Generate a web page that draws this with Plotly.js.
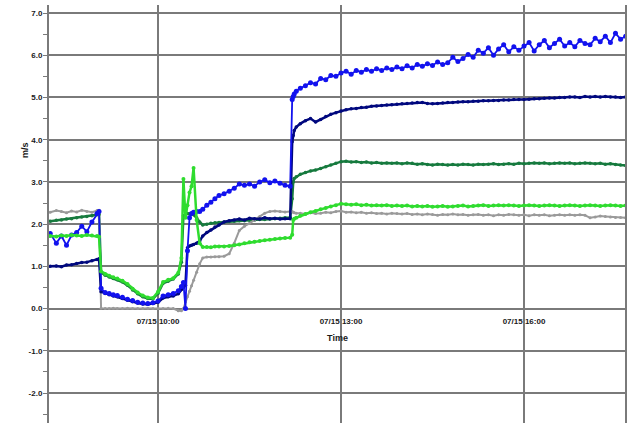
<!DOCTYPE html>
<html>
<head>
<meta charset="utf-8">
<script src="https://cdn.plot.ly/plotly-3.0.1.min.js"></script>
<style>html,body{margin:0;padding:0;background:#fff}#chart{width:629px;height:423px}</style>
</head>
<body>
<div id="chart"></div>
<script>
// ---- data ----
const day = '2024-07-15';
const clock = [
 '08:14','08:20','08:25','08:30','08:35','08:40','08:45','08:50','08:55','09:00','09:02',
 '09:04','09:08','09:12','09:16','09:20','09:25','09:30','09:35','09:40','09:45','09:50','09:55','10:00','10:05','10:10','10:15','10:20',
 '10:23','10:25','10:27','10:29','10:31','10:33','10:35','10:38','10:41','10:44','10:48','10:52','10:56',
 '11:00','11:05','11:10','11:15','11:20','11:25','11:30','11:35','11:40','11:45','11:50','11:55','12:00','12:05','12:10',
 '12:12','12:13','12:14','12:16',
 '12:20','12:25','12:30','12:35','12:40','12:45','12:50','12:55','13:00','13:05','13:10','13:15','13:20','13:25','13:30','13:35',
 '13:40','13:45','13:50','13:55','14:00','14:05','14:10','14:15','14:20','14:25','14:30','14:35','14:40','14:45','14:50','14:55',
 '15:00','15:05','15:10','15:15','15:20','15:25','15:30','15:35','15:40','15:45','15:50','15:55','16:00','16:05','16:10','16:15',
 '16:20','16:25','16:30','16:35','16:40','16:45','16:50','16:55','17:00','17:05','17:10','17:15','17:20','17:25','17:30','17:35','17:40'
];
const seriesBlue = [
 1.78,1.55,1.72,1.50,1.74,1.80,1.95,1.82,2.05,2.25,2.30,
 0.48,0.38,0.36,0.33,0.31,0.27,0.22,0.19,0.15,0.13,0.12,0.14,0.18,0.30,0.33,0.36,0.42,
 0.52,0.62,0.00,1.37,2.15,2.25,2.28,2.30,2.30,2.35,2.45,2.52,2.60,
 2.68,2.72,2.78,2.85,2.95,2.92,2.95,2.90,3.00,3.05,2.98,3.02,2.97,2.92,2.90,
 4.95,5.02,5.08,5.15,
 5.22,5.28,5.35,5.32,5.45,5.42,5.52,5.50,5.58,5.62,5.55,5.64,5.60,5.66,5.62,5.68,
 5.64,5.70,5.66,5.72,5.68,5.75,5.70,5.78,5.74,5.80,5.76,5.84,5.78,5.82,5.95,5.85,
 5.92,6.02,5.95,6.12,6.05,6.18,6.00,6.15,6.25,6.08,6.20,6.12,6.22,6.30,6.10,6.25,
 6.35,6.18,6.28,6.38,6.22,6.30,6.20,6.35,6.28,6.25,6.40,6.32,6.45,6.30,6.52,6.38,6.45
];
const seriesNavy = [
 1.00,1.01,0.99,1.03,1.04,1.07,1.09,1.10,1.13,1.16,1.18,
 0.40,0.36,0.33,0.30,0.28,0.24,0.20,0.16,0.13,0.11,0.10,0.12,0.15,0.25,0.28,0.30,0.35,
 0.45,0.50,0.55,1.44,1.48,1.50,1.52,1.55,1.60,1.72,1.80,1.86,1.93,
 1.98,2.05,2.08,2.10,2.12,2.10,2.14,2.13,2.12,2.15,2.13,2.14,2.12,2.13,2.13,
 3.95,4.10,4.22,4.30,
 4.38,4.45,4.50,4.42,4.48,4.55,4.60,4.64,4.68,4.71,4.73,4.74,4.76,4.77,4.79,4.80,
 4.81,4.82,4.83,4.84,4.85,4.86,4.87,4.88,4.88,4.86,4.85,4.86,4.87,4.88,4.88,4.89,
 4.90,4.90,4.91,4.91,4.92,4.92,4.93,4.93,4.94,4.94,4.95,4.95,4.95,4.96,4.97,4.97,
 4.98,4.99,4.99,5.00,5.00,5.01,5.01,5.00,5.02,5.01,5.02,5.01,5.02,5.01,5.01,5.00,5.01
];
const seriesDarkGreen = [
 2.07,2.09,2.10,2.12,2.13,2.15,2.17,2.18,2.20,2.22,2.23,
 0.85,0.79,0.75,0.71,0.68,0.63,0.55,0.44,0.35,0.28,0.24,0.23,0.36,0.60,0.65,0.70,0.82,
 1.10,2.20,2.22,2.25,2.24,2.25,2.22,2.15,2.05,1.98,2.00,2.02,2.03,
 2.04,2.05,2.06,2.07,2.08,2.08,2.09,2.10,2.11,2.11,2.12,2.13,2.14,2.15,2.16,
 2.60,3.00,3.08,3.12,
 3.18,3.22,3.26,3.28,3.32,3.36,3.40,3.44,3.48,3.49,3.47,3.48,3.46,3.47,3.45,3.46,
 3.44,3.45,3.44,3.45,3.43,3.45,3.44,3.42,3.43,3.41,3.40,3.42,3.41,3.40,3.41,3.40,
 3.42,3.41,3.40,3.42,3.41,3.42,3.43,3.41,3.42,3.43,3.42,3.44,3.43,3.44,3.45,3.44,
 3.45,3.43,3.44,3.45,3.44,3.45,3.43,3.44,3.45,3.44,3.43,3.44,3.42,3.43,3.41,3.40,3.39
];
const seriesGreen = [
 1.72,1.71,1.73,1.72,1.74,1.73,1.72,1.74,1.73,1.72,1.70,
 0.88,0.82,0.78,0.74,0.71,0.66,0.58,0.47,0.38,0.31,0.26,0.25,0.40,0.63,0.68,0.72,0.85,
 1.20,3.07,2.15,2.45,2.75,2.90,3.33,2.10,1.55,1.46,1.46,1.45,1.47,
 1.47,1.47,1.48,1.50,1.52,1.55,1.57,1.58,1.60,1.62,1.63,1.65,1.66,1.67,1.68,
 1.75,2.10,2.13,2.15,
 2.20,2.24,2.28,2.31,2.35,2.38,2.42,2.45,2.48,2.47,2.46,2.47,2.45,2.46,2.44,2.45,
 2.44,2.45,2.43,2.44,2.43,2.44,2.42,2.43,2.42,2.43,2.41,2.42,2.43,2.41,2.42,2.43,
 2.44,2.42,2.43,2.44,2.45,2.43,2.44,2.45,2.44,2.45,2.44,2.43,2.44,2.45,2.44,2.43,
 2.44,2.45,2.44,2.43,2.44,2.45,2.44,2.43,2.44,2.45,2.44,2.43,2.44,2.45,2.44,2.43,2.44
];
const seriesGray = [
 2.28,2.32,2.30,2.27,2.31,2.29,2.33,2.30,2.28,2.32,2.33,
 0.01,0.00,0.00,0.01,0.00,0.00,0.01,0.00,0.00,0.00,0.01,0.00,0.00,0.00,0.01,0.00,-0.05,
 -0.05,0.00,0.16,0.28,0.41,0.54,0.67,0.86,1.06,1.20,1.22,1.22,1.23,
 1.23,1.24,1.30,1.55,1.85,1.95,2.02,2.10,2.18,2.26,2.30,2.31,2.30,2.29,2.30,
 2.30,2.28,2.27,2.26,
 2.26,2.24,2.27,2.25,2.26,2.28,2.27,2.30,2.31,2.28,2.29,2.27,2.28,2.26,2.27,2.25,
 2.26,2.24,2.26,2.25,2.24,2.25,2.23,2.24,2.22,2.24,2.23,2.21,2.23,2.22,2.24,2.22,
 2.23,2.21,2.22,2.23,2.21,2.22,2.20,2.22,2.21,2.23,2.22,2.21,2.22,2.20,2.22,2.21,
 2.22,2.20,2.21,2.22,2.21,2.22,2.21,2.22,2.21,2.15,2.17,2.19,2.18,2.17,2.16,2.16,2.15
];
const xTickClock = ['10:00','13:00','16:00'];
const yTickVals = [-2,-1,0,1,2,3,4,5,6,7];
const yTickText = ['-2.0','-1.0','0.0','1.0','2.0','3.0','4.0','5.0','6.0','7.0'];
const xRange = ['08:12:47','17:40:20'];
const yRange = [-2.71, 7.19];

// ---- chart ----
const times = clock.map(t => day + ' ' + t);
function tr(y, color, lw, ms) {
  return {x: times, y: y, type: 'scatter', mode: 'lines+markers',
    line: {color: color, width: lw}, marker: {color: color, size: ms},
    hoverinfo: 'skip', showlegend: false};
}
const data = [
  tr(seriesDarkGreen, '#167a3e', 2.5, 3.5),
  tr(seriesGray, '#9a9a9a', 2, 3),
  tr(seriesNavy, '#00087e', 2.5, 3.5),
  tr(seriesBlue, '#1212ee', 1.8, 5),
  tr(seriesGreen, '#2fdc2f', 2.5, 4)
];
const boldFont = {family: 'Liberation Sans, Arial, sans-serif', size: 8, color: '#1a1a1a', weight: 'bold'};
const gridCol = '#7a7a7a';
const layout = {
  width: 629, height: 423,
  margin: {l: 49, r: 3, t: 5, b: 0},
  paper_bgcolor: '#fff', plot_bgcolor: '#fff',
  xaxis: {
    type: 'date', range: xRange.map(t => day + ' ' + t),
    tickmode: 'array', tickvals: xTickClock.map(t => day + ' ' + t),
    tickformat: '%m/%d %H:%M',
    anchor: 'free', position: (0 - yRange[0]) / (yRange[1] - yRange[0]),
    showline: false, zeroline: false,
    showgrid: true, gridcolor: gridCol, gridwidth: 2,
    ticks: 'outside', ticklen: 5, tickcolor: 'rgba(0,0,0,0)',
    tickfont: boldFont,
    title: {text: 'Time', font: {family: 'Liberation Sans, Arial, sans-serif', size: 9, color: '#1a1a1a', weight: 'bold'}, standoff: 9}
  },
  yaxis: {
    range: yRange,
    tickmode: 'array', tickvals: yTickVals, ticktext: yTickText,
    showgrid: true, gridcolor: gridCol, gridwidth: 2,
    zeroline: false,
    showline: true, linecolor: gridCol, linewidth: 2,
    ticks: 'outside', ticklen: 3, tickcolor: gridCol,
    minor: {dtick: 0.5, tick0: 0, ticks: 'outside', ticklen: 4, tickcolor: gridCol, showgrid: false},
    tickfont: boldFont
  },
  shapes: [{type: 'line', xref: 'paper', yref: 'paper', x0: 1, x1: 1, y0: 0, y1: 1,
    line: {color: gridCol, width: 2}}],
  annotations: [{text: 'm/s', xref: 'paper', yref: 'paper', x: -0.054, y: 0.653,
    showarrow: false, textangle: -90,
    font: {family: 'Liberation Sans, Arial, sans-serif', size: 9, color: '#1a1a1a', weight: 'bold'}}]
};
Plotly.newPlot('chart', data, layout, {displayModeBar: false, staticPlot: true});
</script>
</body>
</html>
